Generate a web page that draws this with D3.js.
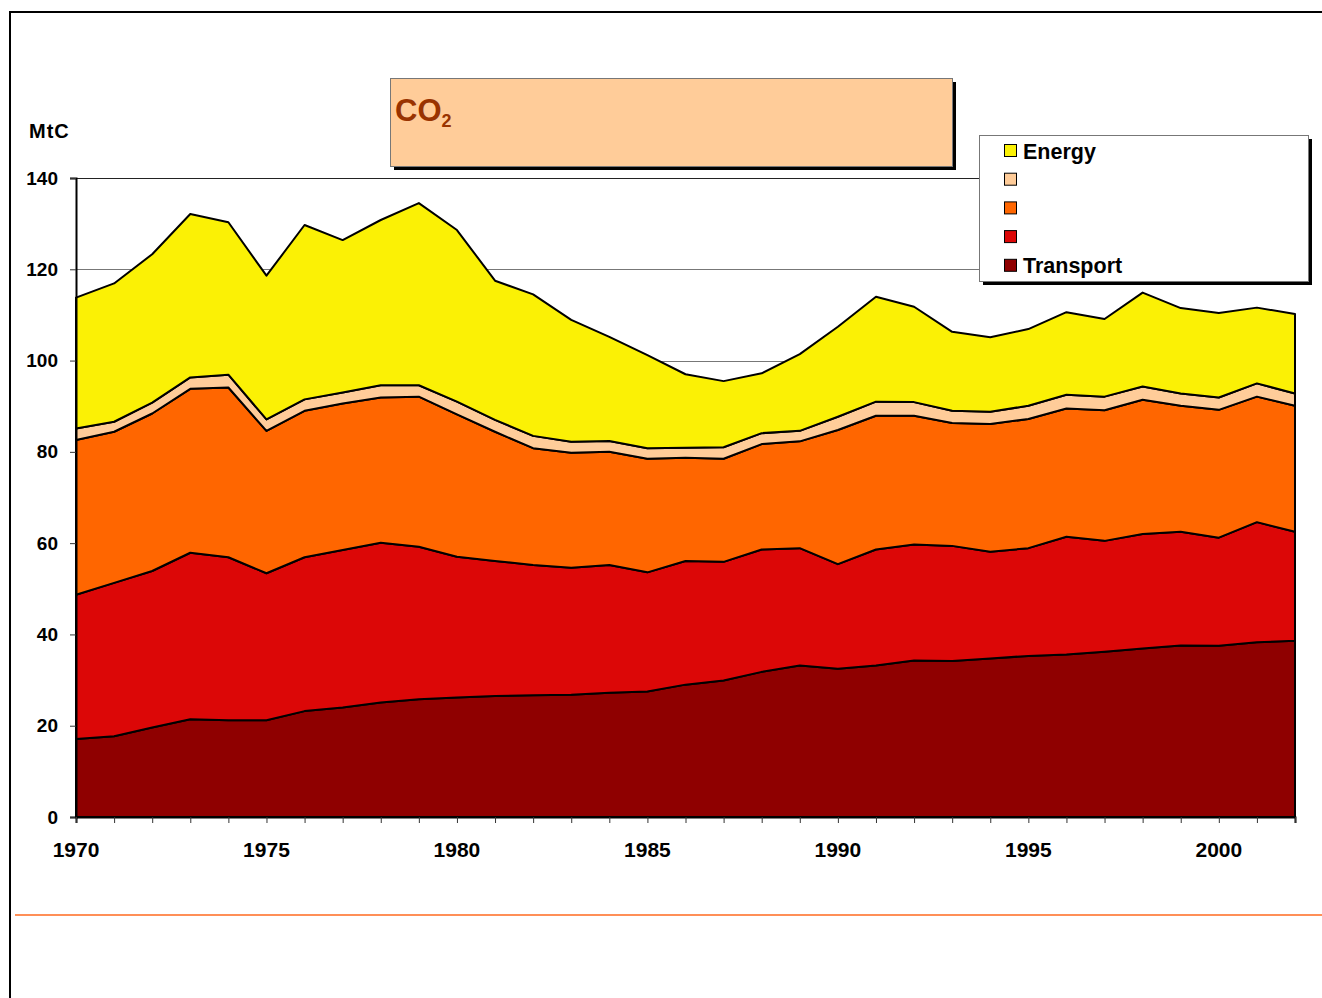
<!DOCTYPE html>
<html>
<head>
<meta charset="utf-8">
<script src="https://cdn.jsdelivr.net/npm/d3@7"></script>
<style>
    body { margin: 0; background: #fff; }
    svg { display: block; font-family: "Liberation Sans", Arial, sans-serif; }
</style>
</head>
<body>
<script>
// ===========================================================
// DATA (MtC)
// ===========================================================
const years = d3.range(1970, 2003);

const transport = [17.1, 17.7, 19.6, 21.4, 21.2, 21.2, 23.2, 24.0, 25.1, 25.8, 26.2,
    26.5, 26.7, 26.8, 27.2, 27.5, 29.0, 29.9, 31.8, 33.2, 32.5, 33.2,
    34.3, 34.2, 34.7, 35.3, 35.6, 36.2, 36.9, 37.6, 37.5, 38.3, 38.6];

const redSeries = [31.6, 33.6, 34.3, 36.5, 35.7, 32.2, 33.7, 34.5, 35.0, 33.4, 30.8,
    29.6, 28.5, 27.8, 28.0, 26.1, 27.1, 26.0, 26.8, 25.7, 22.9, 25.4,
    25.4, 25.2, 23.4, 23.6, 25.8, 24.3, 25.1, 24.9, 23.7, 26.3, 23.9];

const orangeSeries = [33.9, 33.1, 34.5, 35.9, 37.2, 31.2, 32.1, 32.1, 31.8, 32.9, 31.2,
    28.3, 25.6, 25.2, 24.8, 24.9, 22.6, 22.6, 23.1, 23.4, 29.4, 29.3,
    28.2, 26.9, 28.0, 28.3, 28.1, 28.6, 29.4, 27.6, 28.0, 27.5, 27.6];

const peachSeries = [2.5, 2.2, 2.4, 2.5, 2.8, 2.5, 2.5, 2.4, 2.7, 2.5, 2.8,
    2.6, 2.7, 2.4, 2.4, 2.3, 2.2, 2.5, 2.4, 2.3, 2.9, 3.1,
    3.0, 2.7, 2.7, 2.9, 3.0, 3.0, 2.9, 2.7, 2.7, 2.9, 2.7];

const energy = [28.7, 30.3, 32.5, 35.8, 33.4, 31.5, 38.2, 33.4, 36.2, 39.9, 37.6,
    30.5, 31.0, 26.7, 22.8, 20.4, 16.1, 14.5, 13.1, 16.8, 19.7, 23.0,
    20.9, 17.3, 16.3, 16.8, 18.1, 17.0, 20.6, 18.7, 18.5, 16.6, 17.4];

// bottom -> top stacking order
const seriesKeys = ["transport", "red", "orange", "peach", "energy"];
const seriesNames = ["Transport", "", "", "", "Energy"];
const seriesColors = ["#8f0000", "#dc0707", "#ff6600", "#ffcc99", "#fbf105"];

const yTicks = [0, 20, 40, 60, 80, 100, 120, 140];
const xTickLabels = [1970, 1975, 1980, 1985, 1990, 1995, 2000];

// ===========================================================
// SETUP
// ===========================================================
const width = 1322;
const height = 998;
const plot = { left: 76, right: 1295, top: 178, bottom: 817 };

const svg = d3.select("body").append("svg")
    .attr("width", width)
    .attr("height", height);

const x = d3.scaleLinear().domain([1970, 2002]).range([plot.left, plot.right]);
const y = d3.scaleLinear().domain([0, 140]).range([plot.bottom, plot.top]);

const table = years.map((yr, i) => ({
    year: yr,
    transport: transport[i],
    red: redSeries[i],
    orange: orangeSeries[i],
    peach: peachSeries[i],
    energy: energy[i]
}));

const stacked = d3.stack().keys(seriesKeys)(table);

// ===========================================================
// PAGE FRAME
// ===========================================================
svg.append("path")
    .attr("d", `M10,${height} L10,12 L${width},12`)
    .attr("fill", "none")
    .attr("stroke", "#000")
    .attr("stroke-width", 2);

svg.append("line")
    .attr("x1", 15).attr("x2", width)
    .attr("y1", 915).attr("y2", 915)
    .attr("stroke", "#ff6a1f")
    .attr("stroke-width", 1.5);

// ===========================================================
// GRIDLINES
// ===========================================================
svg.append("g")
    .selectAll("line")
    .data(yTicks.filter(d => d > 0))
    .join("line")
    .attr("x1", plot.left).attr("x2", plot.right)
    .attr("y1", d => Math.round(y(d)) + 0.5)
    .attr("y2", d => Math.round(y(d)) + 0.5)
    .attr("stroke", d => d === 140 ? "#222" : "#777")
    .attr("stroke-width", 1);

// ===========================================================
// AREAS
// ===========================================================
const area = d3.area()
    .x(d => x(d.data.year))
    .y0(d => y(d[0]))
    .y1(d => y(d[1]));

svg.append("g")
    .selectAll("path")
    .data(stacked)
    .join("path")
    .attr("d", area)
    .attr("fill", (d, i) => seriesColors[i])
    .attr("stroke", "#000")
    .attr("stroke-width", 2)
    .attr("stroke-linejoin", "round");

// ===========================================================
// AXES
// ===========================================================
const yAxis = svg.append("g")
    .attr("transform", `translate(${plot.left},0)`)
    .call(d3.axisLeft(y).tickValues(yTicks).tickSize(6).tickPadding(10).tickFormat(d3.format("d")));

const xAxis = svg.append("g")
    .attr("transform", `translate(0,${plot.bottom})`)
    .call(d3.axisBottom(x).tickValues(years).tickSize(6).tickFormat(""));

[yAxis, xAxis].forEach(ax => {
    ax.select(".domain").attr("stroke", "#000").attr("stroke-width", 2);
    ax.selectAll(".tick line").attr("stroke", "#333").attr("stroke-width", 1);
});

yAxis.selectAll(".tick text")
    .attr("font-size", 19)
    .attr("font-weight", "bold")
    .attr("fill", "#000")
    .attr("dx", -2);

svg.append("g")
    .selectAll("text")
    .data(xTickLabels)
    .join("text")
    .attr("x", d => x(d))
    .attr("y", 857)
    .attr("text-anchor", "middle")
    .attr("font-size", 21)
    .attr("font-weight", "bold")
    .text(d => d);

svg.append("text")
    .attr("x", 29)
    .attr("y", 138)
    .attr("font-size", 20)
    .attr("font-weight", "bold")
    .attr("letter-spacing", 1)
    .text("MtC");

// ===========================================================
// TITLE BOX
// ===========================================================
const titleBox = svg.append("g");
titleBox.append("rect")
    .attr("x", 394).attr("y", 82)
    .attr("width", 562).attr("height", 88)
    .attr("fill", "#000");
titleBox.append("rect")
    .attr("x", 390.5).attr("y", 78.5)
    .attr("width", 562).attr("height", 88)
    .attr("fill", "#ffcc99")
    .attr("stroke", "#777")
    .attr("stroke-width", 1);

const title = titleBox.append("text")
    .attr("x", 395)
    .attr("y", 121)
    .attr("font-size", 31)
    .attr("font-weight", "bold")
    .attr("fill", "#993300");
title.append("tspan").text("CO");
title.append("tspan")
    .attr("font-size", 18)
    .attr("dy", 6)
    .text("2");

// ===========================================================
// LEGEND
// ===========================================================
const legend = svg.append("g");
legend.append("rect")
    .attr("x", 983).attr("y", 139)
    .attr("width", 329).attr("height", 146)
    .attr("fill", "#000");
legend.append("rect")
    .attr("x", 979.5).attr("y", 135.5)
    .attr("width", 329).attr("height", 146)
    .attr("fill", "#fff")
    .attr("stroke", "#777")
    .attr("stroke-width", 1);

const legendOrder = d3.range(seriesKeys.length).reverse();
const legendRow = legend.selectAll(".legend-row")
    .data(legendOrder)
    .join("g")
    .attr("class", "legend-row")
    .attr("transform", (d, i) => `translate(1004,${151 + i * 28.7})`);

legendRow.append("rect")
    .attr("x", 0.5).attr("y", -6.5)
    .attr("width", 12).attr("height", 12)
    .attr("fill", d => seriesColors[d])
    .attr("stroke", "#000")
    .attr("stroke-width", 1);

legendRow.append("text")
    .attr("x", 19)
    .attr("y", 7.5)
    .attr("font-size", 21.5)
    .attr("font-weight", "bold")
    .text(d => seriesNames[d]);
</script>
</body>
</html>
